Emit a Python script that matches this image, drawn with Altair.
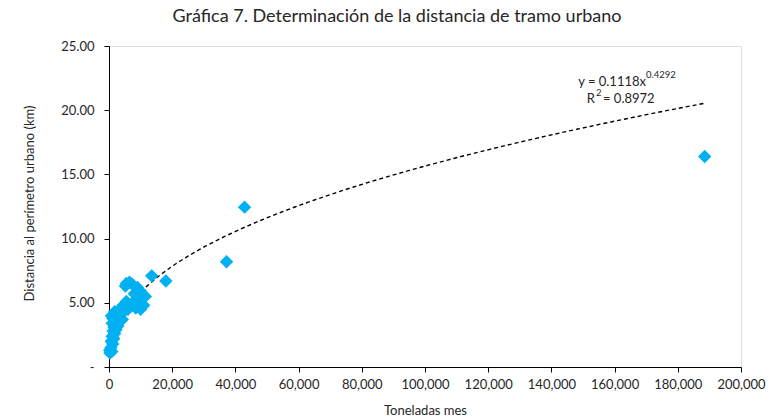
import altair as alt
import pandas as pd

# Scatter data (Toneladas mes vs distancia en km)
toneladas = [300, 200, 600, 900, 1200, 700, 1500, 1000, 1800, 1300, 2200, 1600,
             2800, 1000, 2000, 3500, 1200, 2500, 4200, 800, 3000, 1800, 5000,
             3800, 4500, 6000, 7000, 8500, 10000, 11000, 5500, 7500, 9000,
             11500, 8000, 10000, 9000, 7500, 5500, 6500, 5200, 13500, 18000,
             37200, 42900, 188500]
distancia = [1.1, 1.3, 1.5, 1.2, 1.8, 2.0, 2.2, 2.4, 2.6, 2.8, 2.9, 3.1,
             3.2, 3.4, 3.5, 3.6, 3.8, 3.9, 3.7, 4.0, 4.2, 4.3, 4.4,
             4.6, 4.8, 4.5, 4.8, 4.6, 4.5, 4.8, 5.1, 5.0, 5.3,
             5.5, 5.7, 5.9, 6.2, 6.4, 6.5, 6.6, 6.3, 7.1, 6.7,
             8.2, 12.45, 16.4]

# Power trendline coefficients shown on the chart: y = a * x^b
coef_a = 0.1118
coef_b = 0.4292
r2 = 0.8972

x_ticks = [0, 20000, 40000, 60000, 80000, 100000, 120000, 140000, 160000, 180000, 200000]
y_ticks = [0, 5, 10, 15, 20, 25]

FONT = "Lato"
TXT = "#262626"
NB = "\u00a0"

df = pd.DataFrame({"t": toneladas, "d": distancia})

xscale = alt.Scale(domain=[0, 200000], nice=False, zero=True)
yscale = alt.Scale(domain=[0, 25], nice=False)

points = alt.Chart(df).mark_point(
    shape="diamond", filled=True, size=180, color="#00B0F0", opacity=1
).encode(
    x=alt.X("t:Q", scale=xscale, title="Toneladas mes",
            axis=alt.Axis(values=x_ticks, format=",d", grid=False,
                          domainColor="black", tickColor="black", tickSize=5,
                          labelFont=FONT, labelFontSize=13, labelColor=TXT,
                          labelPadding=6, titleFont=FONT, titleFontSize=13,
                          titleFontWeight="normal", titleColor=TXT,
                          titleY=37, titleBaseline="top", labelFlush=False)),
    y=alt.Y("d:Q", scale=yscale, title="Distancia al perímetro urbano (km)",
            axis=alt.Axis(values=y_ticks, grid=False,
                          labelExpr="datum.value == 0 ? '-" + NB * 9 + "' : format(datum.value, '.2f')",
                          domainColor="black", tickColor="black", tickSize=5,
                          labelFont=FONT, labelFontSize=13, labelColor=TXT,
                          labelPadding=10, titleFont=FONT, titleFontSize=13,
                          titleFontWeight="normal", titleColor=TXT,
                          titleX=-80, titleY=157, titleAlign="center",
                          titleAngle=270, titleBaseline="middle")),
)

trend = alt.Chart(pd.DataFrame({"lo": [min(toneladas)], "hi": [max(toneladas)]})).transform_calculate(
    seq="sequence(0, 201)"
).transform_flatten(["seq"]).transform_calculate(
    t="datum.lo * pow(datum.hi / datum.lo, datum.seq / 200)"
).transform_calculate(
    d=f"{coef_a} * pow(datum.t, {coef_b})"
).mark_line(color="black", strokeDash=[4, 3], strokeWidth=1.4).encode(
    x=alt.X("t:Q", scale=xscale),
    y=alt.Y("d:Q", scale=yscale),
    order="t:Q",
)

def txt(s, x, y, size=13, align="left"):
    return alt.Chart(pd.DataFrame({"txt": [s]})).mark_text(
        align=align, baseline="alphabetic", font=FONT, fontSize=size, color=TXT
    ).encode(x=alt.value(x), y=alt.value(y), text="txt:N")

eq1 = txt(f"y = {coef_a}x", 537, 40, align="right")
eq1s = txt(f"{coef_b}", 537, 32, size=9.5)
eq2 = txt("R", 486, 57, align="right")
eq2s = txt("2", 487, 50, size=9.5)
eq2b = txt(f"{NB}= {r2}", 494, 57)

chart = alt.layer(trend, points, eq1, eq1s, eq2, eq2s, eq2b).properties(
    width=632, height=321,
    title=alt.TitleParams("Gráfica 7. Determinación de la distancia de tramo urbano",
                          font=FONT, fontSize=18, fontWeight="normal", color=TXT,
                          anchor="middle", dx=-28, offset=14),
    autosize=alt.AutoSizeParams(type="none"),
    padding={"left": 101, "top": 38, "right": 26, "bottom": 52},
).configure_view(stroke=None).configure(background="white")

chart.save("out.html", embed_options={"renderer": "svg", "actions": False})
